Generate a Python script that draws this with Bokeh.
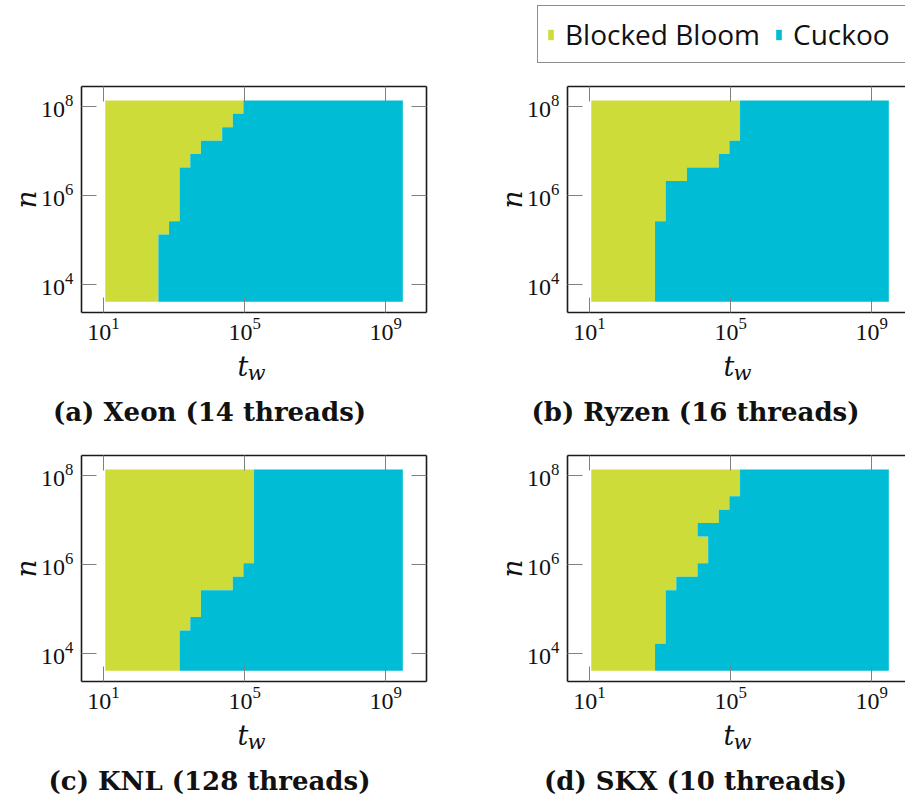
from bokeh.plotting import figure
from bokeh.models import (Range1d, FixedTicker, LogAxis, Legend, LegendItem,
                          CustomJSTickFormatter, LogTickFormatter)
from bokeh.core.properties import value
from bokeh.layouts import column, row
from bokeh.embed import file_html
from bokeh.resources import INLINE

# ---------------- data ----------------
# t_w grid: 2^4 ... 2^31 ; n grid rows: 2^12 ... 2^26 (each row spans n .. 2n)
tw_exponents = list(range(4, 32))
n_exponents = list(range(12, 27))

# for every n row (bottom to top): exponent of the first t_w = 2^k where Cuckoo wins
first_cuckoo_xeon = [9, 9, 9, 9, 9, 10, 11, 11, 11, 11, 12, 13, 15, 16, 17]
first_cuckoo_ryzen = [10, 10, 10, 10, 10, 10, 11, 11, 11, 13, 16, 17, 18, 18, 18]
first_cuckoo_knl = [11, 11, 11, 12, 13, 13, 16, 17, 18, 18, 18, 18, 18, 18, 18]
first_cuckoo_skx = [10, 10, 11, 11, 11, 11, 12, 14, 15, 15, 14, 16, 17, 18, 18]

captions = ["(a) Xeon (14 threads)", "(b) Ryzen (16 threads)",
            "(c) KNL (128 threads)", "(d) SKX (10 threads)"]
series_names = ["Blocked Bloom", "Cuckoo"]
x_ticks = [1e1, 1e5, 1e9]
y_ticks = [1e4, 1e6, 1e8]

# ---------------- style ----------------
COLORS = ["#CDDC39", "#00BCD4"]
SERIF = "Liberation Serif"
INK = "#111111"
EMPTY_FMT = "return '';"
W = 905
LEFT_W = 486
NAN = float("nan")


def style_axis(ax, ticks, labels=True):
    ax.ticker = FixedTicker(ticks=ticks)
    ax.major_tick_in = 15
    ax.major_tick_out = 0
    ax.major_tick_line_color = "#808080"
    ax.major_tick_line_width = 1
    ax.minor_tick_line_color = None
    ax.axis_line_color = "#1a1a1a"
    ax.axis_line_width = 1.6
    if labels:
        ax.formatter = LogTickFormatter()
        ax.major_label_text_font = SERIF
        ax.major_label_text_font_size = "24px"
        ax.major_label_text_color = INK
    else:
        ax.formatter = CustomJSTickFormatter(code=EMPTY_FMT)
        ax.major_label_standoff = 0


def staircase(boundary):
    """Polygons of both regions, built from the per-row boundary data."""
    x0 = 2.0 ** (tw_exponents[0] - 0.5)
    x1 = 2.0 ** (tw_exponents[-1] + 0.5)
    xs_step, ys_step = [], []
    for m, k in zip(n_exponents, boundary):
        s = 2.0 ** (k - 0.5)
        xs_step += [s, s]
        ys_step += [2.0 ** m, 2.0 ** (m + 1)]
    y_lo = 2.0 ** n_exponents[0]
    y_hi = 2.0 ** (n_exponents[-1] + 1)
    bloom_x = [x0] + xs_step + [x0]
    bloom_y = [y_lo] + ys_step + [y_hi]
    cuckoo_x = [x1] + xs_step[::-1] + [x1]
    cuckoo_y = [y_hi] + ys_step[::-1] + [y_lo]
    return bloom_x, bloom_y, cuckoo_x, cuckoo_y


def make_panel(boundary, right_col):
    fw = 338 if right_col else 345
    xr_end = 10 ** (0.38 + fw / 35.3)
    p = figure(
        x_axis_type="log", y_axis_type="log",
        x_range=Range1d(10 ** 0.38, xr_end),
        y_range=Range1d(10 ** 3.37, 10 ** 8.44),
        frame_width=fw, frame_height=226,
        min_border_left=81, min_border_right=0 if right_col else 60,
        min_border_top=16, min_border_bottom=34,
        output_backend="svg", toolbar_location=None,
    )
    p.grid.visible = False
    p.outline_line_color = None
    p.background_fill_color = "white"
    p.border_fill_color = "white"

    bx, by, cxs, cys = staircase(boundary)
    p.patch(bx, by, fill_color=COLORS[0], line_color=None)
    p.patch(cxs, cys, fill_color=COLORS[1], line_color=None)

    style_axis(p.xaxis[0], x_ticks)
    style_axis(p.yaxis[0], y_ticks)
    p.xaxis[0].major_label_standoff = 5
    p.yaxis[0].major_label_standoff = 8
    p.yaxis[0].axis_label = "n"
    p.yaxis[0].axis_label_text_font = "DejaVu Serif"
    p.yaxis[0].axis_label_text_font_style = "italic"
    p.yaxis[0].axis_label_text_font_size = "28px"
    p.yaxis[0].axis_label_text_color = INK
    p.yaxis[0].axis_label_standoff = -5

    top_ax = LogAxis()
    style_axis(top_ax, x_ticks, labels=False)
    p.add_layout(top_ax, "above")
    if not right_col:
        right_ax = LogAxis()
        style_axis(right_ax, y_ticks, labels=False)
        p.add_layout(right_ax, "right")
    return p


def blank_strip(h):
    s = figure(width=W, height=h, x_range=Range1d(0, W), y_range=Range1d(h, 0),
               x_axis_location=None, y_axis_location=None, min_border=0,
               output_backend="svg", toolbar_location=None)
    s.grid.visible = False
    s.outline_line_color = None
    s.background_fill_color = "white"
    s.border_fill_color = "white"
    return s


def label_strip(h, caption_pair):
    s = blank_strip(h)
    frame_lefts = [81, LEFT_W + 81]
    # x axis labels t_w
    s.text(x=[fl + 156 for fl in frame_lefts], y=[20, 20], text=["t", "t"],
           text_font=value("DejaVu Serif"), text_font_style="italic",
           text_font_size="27px", text_color=INK, text_baseline="alphabetic",
           text_align="left")
    s.text(x=[fl + 166 for fl in frame_lefts], y=[26, 26], text=["w", "w"],
           text_font=value("DejaVu Serif"), text_font_style="italic",
           text_font_size="21px", text_color=INK, text_baseline="alphabetic",
           text_align="left")
    # sub-figure captions
    s.text(x=[fl + 128 for fl in frame_lefts], y=[65, 65], text=caption_pair,
           text_font=value("DejaVu Serif"), text_font_style="bold",
           text_font_size="26px", text_color=INK, text_baseline="middle",
           text_align="center")
    return s


# legend strip
top = blank_strip(70)
r1 = top.quad(left=[NAN], right=[NAN], bottom=[NAN], top=[NAN],
              fill_color=COLORS[0], line_color=None)
r2 = top.quad(left=[NAN], right=[NAN], bottom=[NAN], top=[NAN],
              fill_color=COLORS[1], line_color=None)
legend = Legend(
    items=[LegendItem(label=series_names[0], renderers=[r1]),
           LegendItem(label=series_names[1], renderers=[r2])],
    orientation="horizontal", location=(537, 7),
    glyph_width=7, glyph_height=13, label_standoff=11, spacing=14, padding=9,
    label_width=196,
    label_text_font="Open Sans", label_text_font_size="28px", label_text_color=INK,
    border_line_color="#1a1a1a", border_line_width=1.3, background_fill_alpha=1.0,
    margin=0,
)
top.add_layout(legend, "center")

pa = make_panel(first_cuckoo_xeon, False)
pb = make_panel(first_cuckoo_ryzen, True)
pc = make_panel(first_cuckoo_knl, False)
pd = make_panel(first_cuckoo_skx, True)

strip1 = label_strip(93, captions[0:2])
strip2 = label_strip(82, captions[2:4])

layout = column(top, row(pa, pb), strip1, row(pc, pd), strip2)
open("out.html", "w").write(file_html(layout, INLINE))
